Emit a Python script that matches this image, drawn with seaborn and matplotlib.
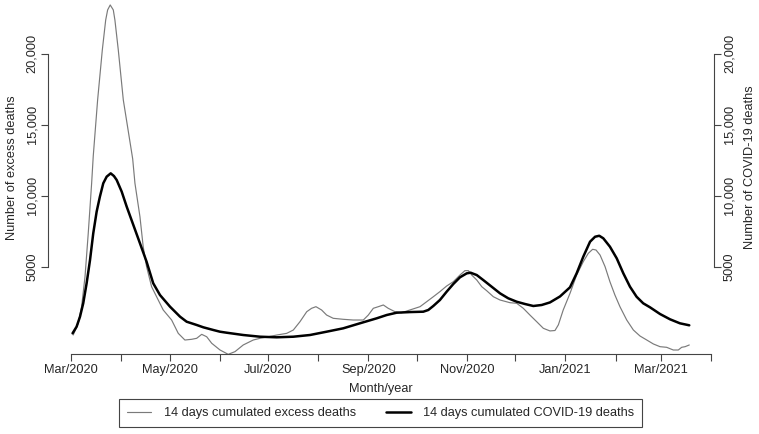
import numpy as np
import pandas as pd
import matplotlib
matplotlib.use("Agg")
import matplotlib.pyplot as plt
import matplotlib.dates as mdates
import seaborn as sns

# --- data (days after 1 March 2020, value) ---
base_date = pd.Timestamp("2020-03-01")

excess_days = [1.4, 4.5, 6.6, 8.7, 10.7, 12.8, 13.8, 16.5, 19.4, 21.5, 22.7, 24.3,
               26.2, 27.2, 29.3, 32.4, 38.2, 39.6, 42.7, 44.7, 46.8, 49.9, 53, 57.1,
               62.3, 66.4, 70.5, 74.7, 77.8, 80.9, 84, 87.1, 92.2, 97.3, 101.5, 106.6,
               112.8, 117, 122.1, 127.3, 133.5, 137.6, 141.7, 145.9, 148.9, 151.6, 155.1, 158.2,
               162.3, 168.5, 174.7, 180.9, 184, 187.1, 190.2, 193.3, 196.3, 200.5, 204.6, 209.8,
               216, 220.1, 224.2, 228.3, 232.5, 236.6, 240.7, 243.8, 245.9, 248, 251.1, 254.2,
               257.2, 261.4, 265.5, 271.7, 275.8, 279.9, 284, 288.2, 292.3, 296.4, 299.5, 301.6,
               304.6, 308.8, 312.9, 317, 320.1, 322.8, 324.9, 327.4, 330.5, 333.5, 336.6, 339.7,
               343.9, 348, 352.1, 356.3, 360.4, 364.5, 368.6, 372.7, 375.8, 377.9, 380, 382.6]
excess_deaths = [183, 1008, 2180, 4290, 7350, 10880, 12800, 16750, 20270, 22390, 23100, 23450,
                 23100, 22390, 20270, 16750, 12600, 10880, 8520, 6410, 5000, 3590, 2880, 1946,
                 1240, 300, -170, -120, -50, 230, 60, -400, -870, -1180, -990, -520,
                 -170, -50, 60, 180, 300, 535, 1120, 1826, 2066, 2180, 1946, 1590,
                 1360, 1290, 1240, 1240, 1590, 2066, 2180, 2300, 2066, 1826, 1755, 1950,
                 2180, 2530, 2880, 3240, 3640, 3940, 4410, 4720, 4720, 4410, 4060, 3590,
                 3310, 2880, 2650, 2460, 2420, 2066, 1590, 1120, 655, 470, 500, 900,
                 1946, 3120, 4410, 5350, 5940, 6225, 6175, 5820, 5000, 3940, 3000, 2180,
                 1240, 536, 113, -170, -450, -640, -684, -874, -874, -684, -640, -520]

covid_days = [1, 3.5, 5.6, 7.6, 9.7, 11.8, 13.8, 15.9, 17.9, 20, 22.1, 24.6,
              26.6, 28.3, 31.4, 34.5, 38.6, 42.7, 46.8, 50.9, 55.1, 61.3, 67.5, 71.6,
              77.8, 81.9, 88.1, 92.2, 96.3, 106.6, 117, 127.3, 137.6, 147.9, 158.2, 168.5,
              178.8, 189.2, 195.4, 201.5, 209.8, 218, 221.1, 224.2, 228.3, 232.5, 236.6, 240.7,
              244.9, 247.3, 251.1, 255.1, 260.3, 265.5, 270.6, 275.8, 280.9, 286.1, 291.3, 296.4,
              302.6, 308.8, 312.9, 317, 321.2, 324.3, 326.9, 329.4, 333.5, 337.7, 341.8, 345.9,
              350, 354.1, 358.3, 364.5, 370.7, 376.8, 382.6]
covid_deaths = [303, 770, 1475, 2420, 3830, 5470, 7350, 8880, 9930, 10880, 11345, 11580,
                11390, 11110, 10290, 9230, 7940, 6650, 5350, 3830, 3000, 2180, 1475, 1120,
                890, 726, 536, 416, 346, 183, 63, 21, 63, 183, 416, 655,
                1008, 1360, 1593, 1755, 1800, 1826, 1946, 2228, 2650, 3240, 3780, 4250,
                4530, 4575, 4410, 4060, 3590, 3120, 2770, 2530, 2370, 2228, 2300, 2480,
                2900, 3546, 4530, 5700, 6760, 7110, 7180, 7000, 6410, 5590, 4530, 3590,
                2880, 2418, 2136, 1664, 1290, 1008, 867]

tick_months = pd.date_range("2020-03-01", "2021-04-01", freq="MS")
tick_labels = ["Mar/2020", "", "May/2020", "", "Jul/2020", "", "Sep/2020", "",
               "Nov/2020", "", "Jan/2021", "", "Mar/2021", ""]
y_ticks = [5000, 10000, 15000, 20000]
y_tick_labels = ["5000", "10,000", "15,000", "20,000"]

excess = pd.DataFrame({"date": base_date + pd.to_timedelta(excess_days, unit="D"),
                       "value": excess_deaths})
covid = pd.DataFrame({"date": base_date + pd.to_timedelta(covid_days, unit="D"),
                      "value": covid_deaths})

sns.set_style("ticks")
plt.rcParams["font.family"] = ["Liberation Sans", "DejaVu Sans"]
fs = 9.2

fig = plt.figure(figsize=(7.59, 4.34), dpi=100)
ax = fig.add_axes([48 / 759, 80 / 434, 666 / 759, 351 / 434])
ax2 = ax.twinx()

sns.lineplot(data=excess, x="date", y="value", ax=ax, color="#7a7a7a", linewidth=0.85,
             label="14 days cumulated excess deaths", legend=False,
             solid_joinstyle="round")
sns.lineplot(data=covid, x="date", y="value", ax=ax2, color="black", linewidth=1.8,
             label="14 days cumulated COVID-19 deaths", legend=False,
             solid_joinstyle="round")

xmin = base_date + pd.Timedelta(days=-14.2)
xmax = base_date + pd.Timedelta(days=397.9)
for a in (ax, ax2):
    a.set_xlim(xmin, xmax)
    a.set_ylim(-1156, 23589)
    a.set_yticks(y_ticks)
    a.spines["top"].set_visible(False)
    a.tick_params(axis="both", length=5, width=0.8, color="#444444", labelsize=fs, pad=2)

ax.set_xticks(mdates.date2num(tick_months))
ax.set_xticklabels(tick_labels)
ax.set_yticklabels(y_tick_labels, rotation=90, va="center")
ax2.set_yticklabels(y_tick_labels, rotation=90, va="center")

ax.spines["right"].set_visible(False)
ax.spines["left"].set_bounds(5000, 20000)
ax.spines["bottom"].set_bounds(mdates.date2num(tick_months[0]), mdates.date2num(tick_months[-1]))
ax2.spines["left"].set_visible(False)
ax2.spines["bottom"].set_visible(False)
ax2.spines["right"].set_bounds(5000, 20000)
for a in (ax, ax2):
    for s in a.spines.values():
        s.set_color("#444444")
        s.set_linewidth(0.8)

ax.set_xlabel("")
ax.set_ylabel("")
ax2.set_ylabel("")
fig.text(12 / 759, 1 - 168 / 434, "Number of excess deaths", rotation=90,
         ha="center", va="center", fontsize=fs)
fig.text(750 / 759, 1 - 167 / 434, "Number of COVID-19 deaths", rotation=90,
         ha="center", va="center", fontsize=fs)
fig.text(381 / 759, 1 - 389 / 434, "Month/year", ha="center", va="center", fontsize=fs)

h1, l1 = ax.get_legend_handles_labels()
h2, l2 = ax2.get_legend_handles_labels()
leg = fig.legend(h1 + h2, l1 + l2, ncol=2, loc="center",
                 bbox_to_anchor=(380.5 / 759, 1 - 413 / 434),
                 frameon=True, fancybox=False, framealpha=1, edgecolor="#444444",
                 handlelength=1.9, handletextpad=0.95, columnspacing=2.4,
                 borderpad=0.6, fontsize=fs)
leg.get_frame().set_linewidth(0.8)

fig.savefig("out.png", dpi=100)
